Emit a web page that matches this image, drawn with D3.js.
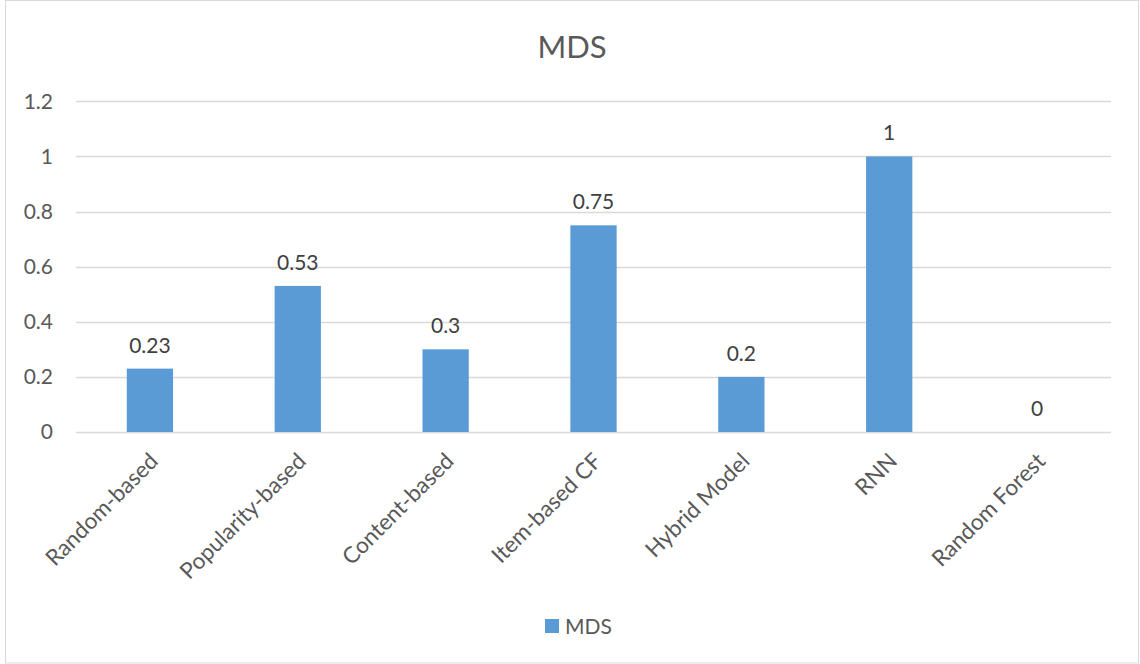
<!DOCTYPE html>
<html>
<head>
<meta charset="utf-8">
<script src="https://cdn.jsdelivr.net/npm/d3@7"></script>
<style>
  html, body { margin: 0; padding: 0; background: #fff; }
  svg { display: block; font-family: Lato, "Open Sans", sans-serif; }
</style>
</head>
<body>
<svg id="chart" width="1140" height="664"></svg>
<script>
// MDS score per recommendation model
const categories = ["Random-based", "Popularity-based", "Content-based", "Item-based CF", "Hybrid Model", "RNN", "Random Forest"];
const values = [0.23, 0.53, 0.3, 0.75, 0.2, 1, 0];
const yTicks = [0, 0.2, 0.4, 0.6, 0.8, 1, 1.2];
const seriesName = "MDS";

const svg = d3.select("#chart");
const W = 1140, H = 664;
const textColor = "#595959";
const barColor = "#5b9bd5";
const gridColor = "#d9d9d9";
const fontSize = 21;

// outer chart frame
svg.append("rect")
  .attr("x", 5.5).attr("y", 0.5)
  .attr("width", W - 7).attr("height", H - 1.5)
  .attr("fill", "#fff").attr("stroke", gridColor).attr("stroke-width", 1);

const plot = { left: 76, right: 1111, top: 101.3, bottom: 432 };

const x = d3.scaleBand()
  .domain(categories)
  .range([plot.left, plot.right])
  .paddingInner(0.687)
  .paddingOuter(0.3435);

const y = d3.scaleLinear()
  .domain([0, 1.2])
  .range([plot.bottom, plot.top]);

// horizontal gridlines
svg.append("g")
  .selectAll("line")
  .data(yTicks)
  .join("line")
  .attr("x1", plot.left).attr("x2", plot.right)
  .attr("y1", d => Math.round(y(d)) + 0.5)
  .attr("y2", d => Math.round(y(d)) + 0.5)
  .attr("stroke", gridColor).attr("stroke-width", 1.3);

// y axis labels
const yAxis = d3.axisLeft(y).tickValues(yTicks).tickSize(0).tickPadding(0)
  .tickFormat(d => d3.format("~g")(d));
const yg = svg.append("g").attr("transform", `translate(${53},0)`).call(yAxis);
yg.select(".domain").remove();
yg.selectAll("text")
  .attr("fill", textColor)
  .attr("font-size", fontSize)
  .attr("font-family", "Lato, 'Open Sans', sans-serif");

// bars
svg.append("g")
  .selectAll("rect")
  .data(values)
  .join("rect")
  .attr("x", (d, i) => x(categories[i]))
  .attr("width", x.bandwidth())
  .attr("y", d => y(d))
  .attr("height", d => y(0) - y(d))
  .attr("fill", barColor);

// value labels
svg.append("g")
  .selectAll("text")
  .data(values)
  .join("text")
  .attr("x", (d, i) => x(categories[i]) + x.bandwidth() / 2)
  .attr("y", d => y(d) - 16)
  .attr("text-anchor", "middle")
  .attr("fill", "#404040")
  .attr("font-size", fontSize)
  .text(d => d3.format("~g")(d));

// category labels, rotated
const xAxis = d3.axisBottom(x).tickSize(0).tickPadding(0);
const xg = svg.append("g").attr("transform", `translate(0,${plot.bottom})`).call(xAxis);
xg.select(".domain").remove();
xg.selectAll("text")
  .attr("fill", textColor)
  .attr("font-size", 22.5)
  .attr("font-family", "Lato, 'Open Sans', sans-serif")
  .attr("text-anchor", "end")
  .attr("dy", "0.35em")
  .attr("transform", "translate(4,25) rotate(-45)");

// title
svg.append("text")
  .attr("x", 572).attr("y", 58)
  .attr("text-anchor", "middle")
  .attr("fill", textColor)
  .attr("font-size", 31)
  .text(seriesName);

// legend
const lg = svg.append("g").attr("transform", "translate(545,619)");
lg.append("rect").attr("width", 14).attr("height", 14).attr("fill", barColor);
lg.append("text")
  .attr("x", 20).attr("y", 14.5)
  .attr("fill", textColor)
  .attr("font-size", fontSize)
  .text(seriesName);
</script>
</body>
</html>
